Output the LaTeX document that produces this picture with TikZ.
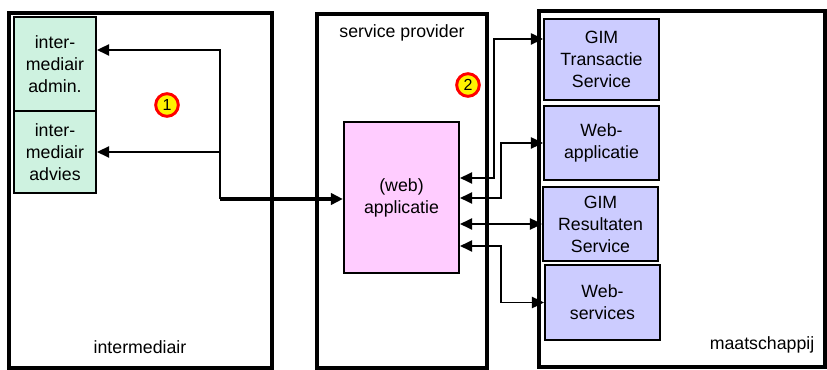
\documentclass[tikz,border=0pt]{standalone}
\usepackage{fontspec}
\setmainfont{Liberation Sans}
\usetikzlibrary{arrows.meta,calc}
\definecolor{mint}{RGB}{206,242,224}
\definecolor{pinkbox}{RGB}{255,204,255}
\definecolor{bluebox}{RGB}{204,204,255}
\begin{document}
\begin{tikzpicture}[x=0.75pt,y=-0.75pt,
  container/.style={draw,line width=2.3pt},
  box/.style={draw,line width=1.7pt,inner sep=0pt,align=center,
    font=\fontsize{13.3}{16.5}\selectfont},
  greenbox/.style={box,fill=mint,minimum width=61.5pt},
  bluebx/.style={box,fill=bluebox,minimum width=86.25pt},
  lbl/.style={font=\fontsize{13.3}{16.5}\selectfont},
  tip/.style={arrows={-Triangle[length=9pt,width=8.5pt]}},
  conn/.style={line width=1.4pt,tip},
  both/.style={line width=1.4pt,arrows={Triangle[length=9pt,width=8.5pt]-Triangle[length=9pt,width=8.5pt]}},
  badge/.style={circle,draw=red,fill=yellow,line width=2.2pt,minimum size=17pt,inner sep=0pt,
    font=\fontsize{12}{12}\selectfont}
]
\useasboundingbox (0,0) rectangle (827,370);

% three domains
\draw[container] (9,13) rectangle (272,368);
\draw[container] (317,14) rectangle (487,368);
\draw[container] (539,11) rectangle (825,367);
\node[lbl] (lint) at (140,347) {intermediair};
\node[lbl] (lsp) at (402,33) {service provider};
\node[lbl] (lmt) at (762,345) {maatschappij};

% intermediair applications
\node[greenbox,minimum height=70.5pt] (admin) at (55,64) {inter-\\mediair\\admin.};
\node[greenbox,minimum height=61.5pt] (advies) at (55,152) {inter-\\mediair\\advies};

% service provider application
\node[box,fill=pinkbox,minimum width=86.25pt,minimum height=113.25pt] (web) at (401.5,197.5) {(web)\\applicatie};

% maatschappij services
\node[bluebx,minimum height=60.75pt] (gt) at (601.5,59.5) {GIM\\Transactie\\Service};
\node[bluebx,minimum height=55.5pt] (wa) at (601.5,143) {Web-\\applicatie};
\node[bluebx,minimum height=55.5pt] (gr) at (600.5,224) {GIM\\Resultaten\\Service};
\node[bluebx,minimum height=56.25pt] (ws) at (602.5,302.5) {Web-\\services};

% badges
\node[badge] (b1) at (167,105) {1};
\node[badge] (b2) at (468,85) {2};

% intermediair <-> web application
\coordinate (j) at (220,199);
\draw[line width=2.3pt,tip] (j) -- (web.west |- j);
\draw[conn] (j) |- ($(admin.east)+(0,-14)$);
\draw[conn] (j) |- (advies.east);

% web application <-> maatschappij services
\coordinate (p1) at ($(web.east)+(0,-19.5)$);
\coordinate (p2) at ($(web.east)+(0,0.5)$);
\coordinate (p4) at ($(web.east)+(0,48.5)$);
\coordinate (t1) at ($(gt.west)+(0,-20.5)$);
\draw[both] (p1) -- (494,178) -- (494,39) -- (t1);
\draw[both] (p2) -- (501,198) -- (501,143) -- (wa.west);
\draw[both] (web.east |- gr.west) -- (gr.west);
\draw[both] (p4) -- (501,246) -- (501,302.5) -- (ws.west);
\end{tikzpicture}
\end{document}
